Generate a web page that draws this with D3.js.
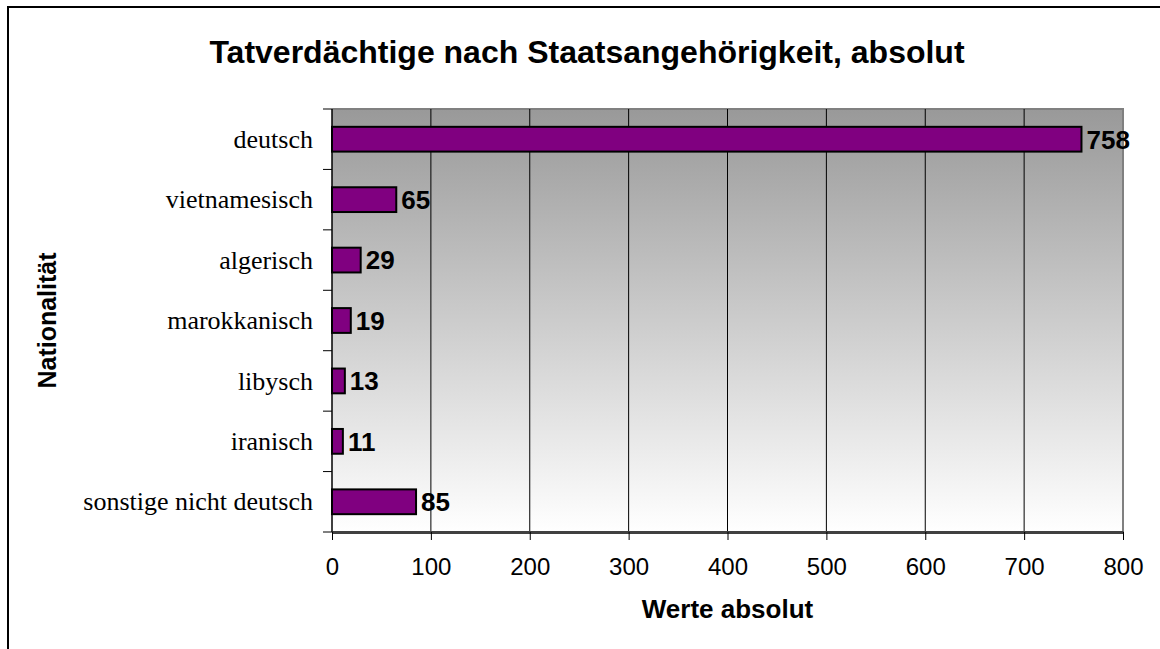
<!DOCTYPE html>
<html>
<head>
<meta charset="utf-8">
<script src="https://cdn.jsdelivr.net/npm/d3@7"></script>
<style>
  body { margin: 0; background: #fff; }
  svg { display: block; }
</style>
</head>
<body>
<div id="chart"></div>
<script>
  var categories = ["deutsch", "vietnamesisch", "algerisch", "marokkanisch", "libysch", "iranisch", "sonstige nicht deutsch"];
  var values = [758, 65, 29, 19, 13, 11, 85];
  var xTicks = [0, 100, 200, 300, 400, 500, 600, 700, 800];

  var W = 1160, H = 649;
  var plot = {left: 332, right: 1123, top: 109, bottom: 532};

  var svg = d3.select("#chart").append("svg")
      .attr("width", W)
      .attr("height", H);

  // outer frame (runs past the right and bottom edges)
  svg.append("rect")
      .attr("x", 8).attr("y", 7)
      .attr("width", W).attr("height", H)
      .attr("fill", "none")
      .attr("stroke", "#000")
      .attr("stroke-width", 2);

  var x = d3.scaleLinear()
      .domain([0, 800])
      .range([plot.left, plot.right]);

  var y = d3.scaleBand()
      .domain(categories)
      .range([plot.top, plot.bottom])
      .paddingInner(0.59)
      .paddingOuter(0.295);

  var defs = svg.append("defs");
  var grad = defs.append("linearGradient")
      .attr("id", "bg")
      .attr("x1", 0).attr("y1", 0).attr("x2", 0).attr("y2", 1);
  grad.append("stop").attr("offset", "0%").attr("stop-color", "#999999");
  grad.append("stop").attr("offset", "100%").attr("stop-color", "#ffffff");

  svg.append("rect")
      .attr("x", plot.left).attr("y", plot.top)
      .attr("width", plot.right - plot.left)
      .attr("height", plot.bottom - plot.top)
      .attr("fill", "url(#bg)");

  // plot area border, top and right
  svg.append("path")
      .attr("d", "M" + plot.left + "," + plot.top + "H" + plot.right + "V" + plot.bottom)
      .attr("fill", "none")
      .attr("stroke", "#808080")
      .attr("stroke-width", 2);

  // vertical gridlines
  svg.append("g")
    .selectAll("line")
      .data(xTicks.slice(1, -1))
    .enter().append("line")
      .attr("x1", d => x(d)).attr("x2", d => x(d))
      .attr("y1", plot.top).attr("y2", plot.bottom)
      .attr("stroke", "#000")
      .attr("stroke-width", 1);

  // bars
  svg.append("g")
    .selectAll("rect")
      .data(values)
    .enter().append("rect")
      .attr("x", x(0))
      .attr("y", (d, i) => y(categories[i]))
      .attr("width", d => x(d) - x(0))
      .attr("height", y.bandwidth())
      .attr("fill", "#800080")
      .attr("stroke", "#000")
      .attr("stroke-width", 2);

  // value labels
  svg.append("g")
    .selectAll("text")
      .data(values)
    .enter().append("text")
      .attr("x", d => x(d) + 5)
      .attr("y", (d, i) => y(categories[i]) + y.bandwidth() / 2)
      .attr("dy", "0.36em")
      .style("font", "bold 26px Arial, 'Liberation Sans', sans-serif")
      .attr("fill", "#000")
      .text(d => d);

  // x axis
  var xAxis = svg.append("g")
      .attr("transform", "translate(0," + plot.bottom + ")")
      .call(d3.axisBottom(x).tickValues(xTicks).tickSize(8).tickPadding(18).tickSizeOuter(0));
  xAxis.select(".domain").attr("stroke", "#404040").attr("stroke-width", 3);
  xAxis.selectAll(".tick line").attr("stroke", "#000");
  xAxis.selectAll(".tick text")
      .style("font", "24px Arial, 'Liberation Sans', sans-serif")
      .attr("fill", "#000");

  // y axis
  var bounds = categories.map(c => y(c) - y.step() * y.paddingInner() / 2);
  bounds.push(plot.bottom);
  svg.append("g")
    .selectAll("line")
      .data(bounds)
    .enter().append("line")
      .attr("x1", plot.left - 9).attr("x2", plot.left)
      .attr("y1", d => d).attr("y2", d => d)
      .attr("stroke", "#000");
  svg.append("line")
      .attr("x1", plot.left).attr("x2", plot.left)
      .attr("y1", plot.top).attr("y2", plot.bottom)
      .attr("stroke", "#000")
      .attr("stroke-width", 1.5);
  svg.append("g")
    .selectAll("text")
      .data(categories)
    .enter().append("text")
      .attr("x", plot.left - 19)
      .attr("y", d => y(d) + y.bandwidth() / 2)
      .attr("dy", "0.33em")
      .attr("text-anchor", "end")
      .style("font", "26px 'Liberation Serif', 'Times New Roman', serif")
      .attr("fill", "#000")
      .text(d => d);

  // titles
  svg.append("text")
      .attr("x", 587).attr("y", 63)
      .attr("text-anchor", "middle")
      .style("font", "bold 32px Arial, 'Liberation Sans', sans-serif")
      .text("Tatverdächtige nach Staatsangehörigkeit, absolut");

  svg.append("text")
      .attr("x", (plot.left + plot.right) / 2).attr("y", 618)
      .attr("text-anchor", "middle")
      .style("font", "bold 26px Arial, 'Liberation Sans', sans-serif")
      .text("Werte absolut");

  svg.append("text")
      .attr("transform", "translate(56," + (plot.top + plot.bottom) / 2 + ") rotate(-90)")
      .attr("text-anchor", "middle")
      .style("font", "bold 25px Arial, 'Liberation Sans', sans-serif")
      .text("Nationalität");
</script>
</body>
</html>
